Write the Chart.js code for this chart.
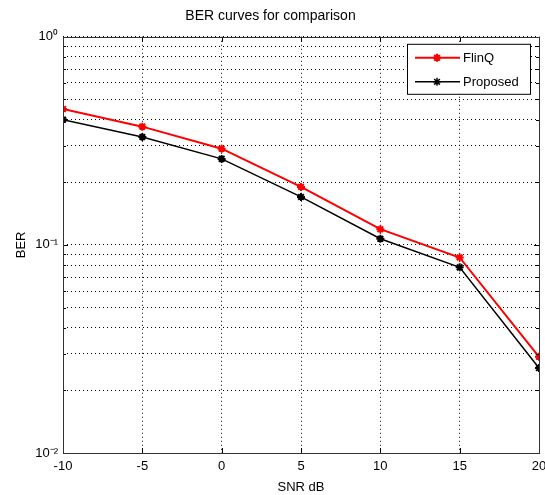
<!DOCTYPE html>
<html>
<head>
<meta charset="utf-8">
<script src="https://cdn.jsdelivr.net/npm/chart.js@4.4.0/dist/chart.umd.min.js"></script>
<style>
html,body{margin:0;padding:0;background:#fff;}
</style>
</head>
<body>
<canvas id="c" width="545" height="495"></canvas>
<script>
// data
const snr = [-10, -5, 0, 5, 10, 15, 20];
const berFlinq = [0.45, 0.37, 0.29, 0.19, 0.119, 0.087, 0.029];
const berProposed = [0.40, 0.33, 0.259, 0.17, 0.107, 0.078, 0.0256];
const xTicks = [-10, -5, 0, 5, 10, 15, 20];
const yTicks = [0.01,0.02,0.03,0.04,0.05,0.06,0.07,0.08,0.09,
                0.1,0.2,0.3,0.4,0.5,0.6,0.7,0.8,0.9,1];
const decades = [0.01, 0.1, 1];
const decadeLabels = ['10⁻²', '10⁻¹', '10⁰'];

const FONT = 'Liberation Sans, Arial, sans-serif';

const isDecade = v => decades.some(d => Math.abs(d - v) < 1e-9);

const drawStar = (ctx, x, y, r) => {
    ctx.beginPath();
    for (let a = 0; a < 4; a++) {
        const ang = a * Math.PI / 4;
        ctx.moveTo(x - r * Math.cos(ang), y - r * Math.sin(ang));
        ctx.lineTo(x + r * Math.cos(ang), y + r * Math.sin(ang));
    }
    ctx.stroke();
};

// axes box + inward tick marks like matlab
const frame = {
    id: 'frame',
    afterDatasetsDraw(chart) {
        const {ctx, chartArea: a, scales} = chart;
        ctx.save();
        ctx.strokeStyle = '#000';
        ctx.lineWidth = 1;
        ctx.setLineDash([]);
        ctx.beginPath();
        xTicks.forEach(v => {
            const px = Math.round(scales.x.getPixelForValue(v)) + 0.5;
            ctx.moveTo(px, a.bottom); ctx.lineTo(px, a.bottom - 5);
            ctx.moveTo(px, a.top); ctx.lineTo(px, a.top + 5);
        });
        yTicks.forEach(v => {
            const py = Math.round(scales.y.getPixelForValue(v)) + 0.5;
            const len = isDecade(v) ? 5 : 3;
            ctx.moveTo(a.left, py); ctx.lineTo(a.left + len, py);
            ctx.moveTo(a.right, py); ctx.lineTo(a.right - len, py);
        });
        ctx.stroke();
        ctx.strokeStyle = '#333';
        ctx.strokeRect(Math.round(a.left) + 0.5, Math.round(a.top) + 0.5,
            Math.round(a.right - a.left), Math.round(a.bottom - a.top));
        ctx.restore();
    }
};

// legend box in the upper right corner of the axes
const boxLegend = {
    id: 'boxLegend',
    afterDraw(chart) {
        const {ctx, chartArea: a} = chart;
        const w = 123, h = 50;
        const left = a.right - 9 - w, top = a.top + 7;
        ctx.save();
        ctx.fillStyle = '#fff';
        ctx.fillRect(left, top, w, h);
        ctx.strokeStyle = '#000';
        ctx.lineWidth = 1;
        ctx.strokeRect(left + 0.5, top + 0.5, w, h);
        ctx.font = '13px ' + FONT;
        ctx.textBaseline = 'middle';
        chart.data.datasets.forEach((ds, i) => {
            const y = top + 14 + i * 24;
            ctx.strokeStyle = ds.borderColor;
            ctx.lineWidth = ds.borderWidth;
            ctx.beginPath();
            ctx.moveTo(left + 8, y); ctx.lineTo(left + 53, y);
            ctx.stroke();
            drawStar(ctx, left + 30, y, 4);
            ctx.fillStyle = '#000';
            ctx.fillText(ds.label, left + 56, y + 1);
        });
        ctx.restore();
    }
};

new Chart(document.getElementById('c'), {
    type: 'line',
    data: {
        datasets: [{
            label: 'FlinQ',
            data: snr.map((s, i) => ({x: s, y: berFlinq[i]})),
            borderColor: '#ff0000',
            backgroundColor: '#ff0000',
            borderWidth: 2,
            pointStyle: 'star',
            pointRadius: 4,
            pointBorderWidth: 2,
            tension: 0
        }, {
            label: 'Proposed',
            data: snr.map((s, i) => ({x: s, y: berProposed[i]})),
            borderColor: '#000000',
            backgroundColor: '#000000',
            borderWidth: 1.5,
            pointStyle: 'star',
            pointRadius: 4,
            pointBorderWidth: 2,
            tension: 0
        }]
    },
    options: {
        responsive: false,
        animation: false,
        devicePixelRatio: 1,
        layout: {padding: {left: 0, right: 4, top: 0, bottom: 0}},
        plugins: {
            legend: {display: false},
            tooltip: {enabled: false},
            title: {
                display: true,
                text: 'BER curves for comparison',
                color: '#000',
                font: {family: FONT, size: 14, weight: 'normal'},
                padding: {top: 8, bottom: 12}
            }
        },
        scales: {
            x: {
                type: 'linear',
                min: -10, max: 20,
                afterBuildTicks: s => { s.ticks = xTicks.map(v => ({value: v})); },
                afterFit: s => { s.height = 42; s.paddingLeft = 0; s.paddingRight = 0; },
                grid: {color: '#000', lineWidth: 1, drawTicks: false},
                border: {display: false, dash: [1, 3]},
                ticks: {
                    color: '#000', padding: 6, maxRotation: 0, autoSkip: false,
                    font: {family: FONT, size: 13}
                },
                title: {
                    display: true, text: 'SNR dB', color: '#000',
                    font: {family: FONT, size: 13}, padding: {top: 0, bottom: 0}
                }
            },
            y: {
                type: 'logarithmic',
                min: 0.01, max: 1,
                afterBuildTicks: s => { s.ticks = yTicks.map(v => ({value: v})); },
                afterFit: s => { s.width = 63; s.paddingTop = 0; s.paddingBottom = 0; },
                grid: {color: '#000', lineWidth: 1, drawTicks: false},
                border: {display: false, dash: [1, 3]},
                ticks: {
                    color: '#000', padding: 5, autoSkip: false,
                    font: {family: FONT, size: 13},
                    callback: v => {
                        const k = decades.findIndex(d => Math.abs(d - v) < 1e-9);
                        return k >= 0 ? decadeLabels[k] : '';
                    }
                },
                title: {
                    display: true, text: 'BER', color: '#000',
                    font: {family: FONT, size: 13}, padding: {top: 14, bottom: 0}
                }
            }
        }
    },
    plugins: [frame, boxLegend]
});
</script>
</body>
</html>
